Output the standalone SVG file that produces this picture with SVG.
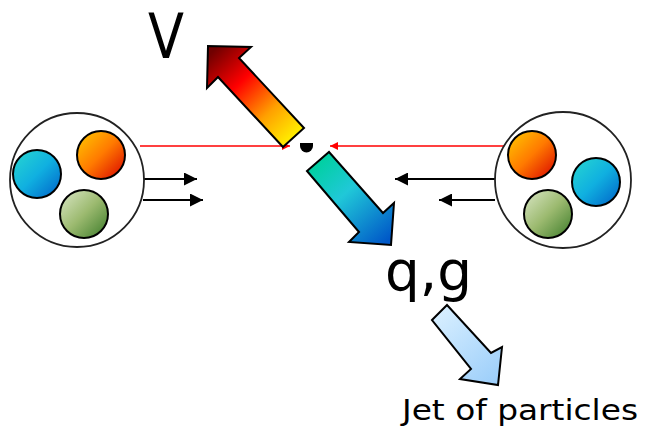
<svg xmlns="http://www.w3.org/2000/svg" width="646" height="437" viewBox="0 0 646 437">
  <style>
    .hadron { fill: #ffffff; stroke: #222222; stroke-width: 1.8; }
    .quark { stroke: #000000; stroke-width: 2; }
    .beam { stroke: #ff0000; stroke-width: 1.5; fill: none; }
    .flow { stroke: #000000; stroke-width: 1.8; fill: none; }
    .big { stroke: #000000; stroke-width: 2; stroke-linejoin: miter; }
    .label { font-family: "DejaVu Sans", Verdana, sans-serif; fill: #000000; }
  </style>
  <defs>
    <linearGradient id="gOrange" x1="0" y1="0" x2="1" y2="1">
      <stop offset="0" stop-color="#ffcc00"/>
      <stop offset="0.5" stop-color="#ff7a00"/>
      <stop offset="1" stop-color="#d80000"/>
    </linearGradient>
    <linearGradient id="gBlue" x1="0" y1="0" x2="1" y2="1">
      <stop offset="0" stop-color="#28d8d0"/>
      <stop offset="0.5" stop-color="#10b0e0"/>
      <stop offset="1" stop-color="#0060c8"/>
    </linearGradient>
    <linearGradient id="gGreen" x1="0" y1="0" x2="1" y2="1">
      <stop offset="0" stop-color="#dce8c8"/>
      <stop offset="0.5" stop-color="#9cba70"/>
      <stop offset="1" stop-color="#3a7a28"/>
    </linearGradient>
    <linearGradient id="gV" gradientUnits="userSpaceOnUse" x1="212" y1="52" x2="294" y2="138">
      <stop offset="0" stop-color="#700000"/>
      <stop offset="0.35" stop-color="#ff0000"/>
      <stop offset="0.7" stop-color="#ffa000"/>
      <stop offset="1" stop-color="#fff000"/>
    </linearGradient>
    <linearGradient id="gQ" gradientUnits="userSpaceOnUse" x1="318" y1="161" x2="388" y2="240">
      <stop offset="0" stop-color="#00d0a0"/>
      <stop offset="0.4" stop-color="#20c8d8"/>
      <stop offset="1" stop-color="#0058c8"/>
    </linearGradient>
    <linearGradient id="gJet" gradientUnits="userSpaceOnUse" x1="440" y1="312" x2="498" y2="382">
      <stop offset="0" stop-color="#d6eeff"/>
      <stop offset="1" stop-color="#9ccefa"/>
    </linearGradient>
    <marker id="headBlack" viewBox="0 0 13 13" refX="13" refY="6.5" markerWidth="13" markerHeight="13" markerUnits="userSpaceOnUse" orient="auto">
      <path d="M0,0 L13,6.5 L0,13 Z" fill="#000000"/>
    </marker>
    <marker id="headRed" viewBox="0 0 10 10" refX="10" refY="5" markerWidth="10" markerHeight="8" markerUnits="userSpaceOnUse" orient="auto">
      <path d="M0,0 L10,5 L0,10 Z" fill="#ff0000"/>
    </marker>
  </defs>

  <!-- beam lines and momentum flow -->
  <g id="connectors">
    <line class="beam" x1="140" y1="146" x2="290" y2="146" marker-end="url(#headRed)"/>
    <line class="beam" x1="505" y1="146" x2="330" y2="146" marker-end="url(#headRed)"/>
    <line class="flow" x1="142" y1="179" x2="197" y2="179" marker-end="url(#headBlack)"/>
    <line class="flow" x1="143" y1="200" x2="203" y2="200" marker-end="url(#headBlack)"/>
    <line class="flow" x1="495" y1="179" x2="395" y2="179" marker-end="url(#headBlack)"/>
    <line class="flow" x1="495" y1="200" x2="439" y2="200" marker-end="url(#headBlack)"/>
  </g>

  <!-- incoming hadron, left -->
  <g id="hadron-left">
    <circle class="hadron" cx="77" cy="180" r="67"/>
    <circle class="quark" cx="37" cy="174" r="24" fill="url(#gBlue)"/>
    <circle class="quark" cx="101" cy="155" r="24" fill="url(#gOrange)"/>
    <circle class="quark" cx="84" cy="214" r="24" fill="url(#gGreen)"/>
  </g>

  <!-- incoming hadron, right -->
  <g id="hadron-right">
    <circle class="hadron" cx="563" cy="180" r="68"/>
    <circle class="quark" cx="532" cy="155" r="24" fill="url(#gOrange)"/>
    <circle class="quark" cx="596" cy="182" r="24" fill="url(#gBlue)"/>
    <circle class="quark" cx="548" cy="214" r="24" fill="url(#gGreen)"/>
  </g>

  <!-- collision point -->
  <g id="vertex">
    <path d="M300,143 H313 V146 A6.5,6.5 0 0 1 300,146 Z" fill="#000000"/>
  </g>

  <!-- outgoing vector boson -->
  <g id="boson-v">
    <polygon class="big" fill="url(#gV)" points="283,147 304,128 239,58 251,47 208,46 207,88 218,77"/>
    <text class="label" x="148" y="58" font-size="62" textLength="36" lengthAdjust="spacingAndGlyphs">V</text>
  </g>

  <!-- outgoing quark / gluon -->
  <g id="parton-qg">
    <polygon class="big" fill="url(#gQ)" points="307,171 329,152 383,213 394,203 391,245 349,242 359,232"/>
    <text class="label" x="385" y="290" font-size="55" textLength="87" lengthAdjust="spacingAndGlyphs">q,g</text>
  </g>

  <!-- hadronisation into a jet -->
  <g id="jet">
    <polygon class="big" fill="url(#gJet)" points="432,320 447,305 491,353 502,347 498,385 460,379 471,369"/>
    <text class="label" x="402" y="420" font-size="28" textLength="236" lengthAdjust="spacingAndGlyphs">Jet of particles</text>
  </g>
</svg>
